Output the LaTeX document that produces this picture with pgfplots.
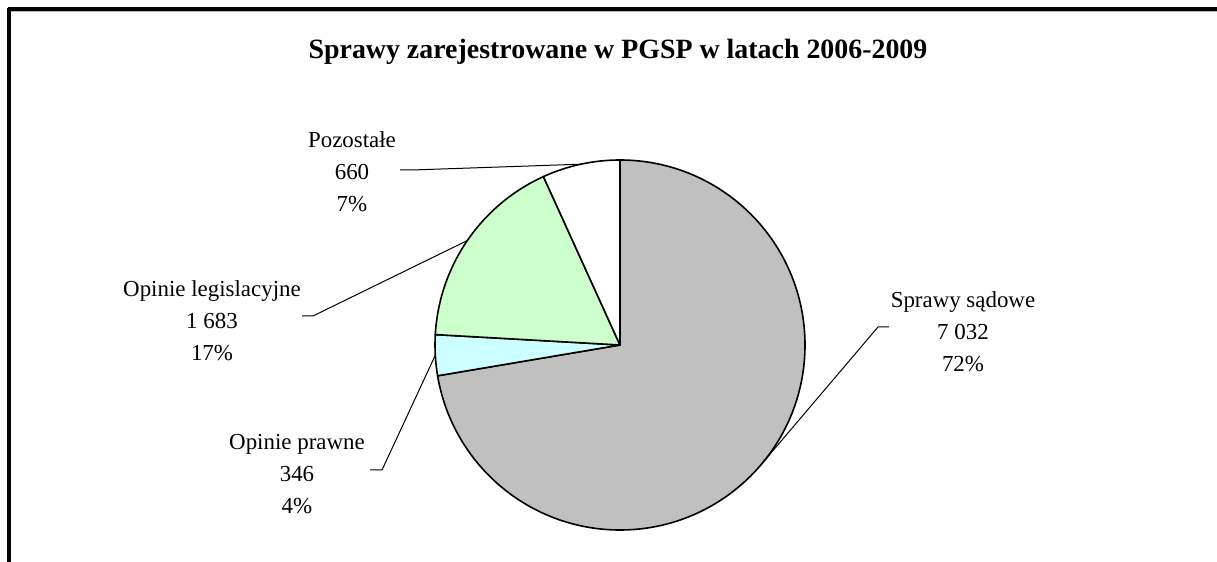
\documentclass[border=0pt]{standalone}
\usepackage{fontspec}
\setmainfont{Liberation Serif}
\usepackage{pgfplots}
\usepackage{pgfplotstable}
\pgfplotsset{compat=1.18}
\definecolor{sadGray}{HTML}{C0C0C0}
\definecolor{prawneCyan}{HTML}{CCFFFF}
\definecolor{legisGreen}{HTML}{CCFFCC}

\pgfplotstableread{
name value
sadowe 7032
prawne 346
legis 1683
pozost 660
}\piedata

\begin{document}
\begin{tikzpicture}
\pgfplotstablegetelem{0}{value}\of\piedata \let\va\pgfplotsretval
\pgfplotstablegetelem{1}{value}\of\piedata \let\vb\pgfplotsretval
\pgfplotstablegetelem{2}{value}\of\piedata \let\vc\pgfplotsretval
\pgfplotstablegetelem{3}{value}\of\piedata \let\vd\pgfplotsretval
\pgfmathsetmacro\tot{\va+\vb+\vc+\vd}
% slices run clockwise from 12 o'clock
\pgfmathsetmacro\aA{90-360*(\va/\tot)}
\pgfmathsetmacro\aB{\aA-360*(\vb/\tot)}
\pgfmathsetmacro\aC{\aB-360*(\vc/\tot)}
\pgfmathsetmacro\mA{(90+\aA)/2}
\pgfmathsetmacro\mB{(\aA+\aB)/2}
\pgfmathsetmacro\mC{(\aB+\aC)/2}
\pgfmathsetmacro\mD{(\aC-270)/2}
\def\R{92.5bp}
\begin{axis}[
  width=608.5bp, height=281bp, scale only axis,
  xmin=0, xmax=1217, ymin=0, ymax=562,
  axis lines=none, clip=false,
]
% frame
\draw[gray!60, line width=0.8bp] (axis cs:10,550.3) -- (axis cs:1217,550.3);
\draw[line width=1.6bp] (axis cs:8,553) -- (axis cs:1217,553);
\draw[line width=1.6bp] (axis cs:9,553.8) -- (axis cs:9,0);

\node[font=\fontsize{14}{17}\selectfont\bfseries] at (axis cs:618,510)
  {Sprawy zarejestrowane w PGSP w latach 2006-2009};

% slices
\filldraw[fill=sadGray, draw=black, line width=0.8bp, line join=round]
  (axis cs:620,217) -- ++(90:\R) arc[start angle=90, end angle=\aA, radius=\R] -- cycle;
\filldraw[fill=prawneCyan, draw=black, line width=0.8bp, line join=round]
  (axis cs:620,217) -- ++(\aA:\R) arc[start angle=\aA, end angle=\aB, radius=\R] -- cycle;
\filldraw[fill=legisGreen, draw=black, line width=0.8bp, line join=round]
  (axis cs:620,217) -- ++(\aB:\R) arc[start angle=\aB, end angle=\aC, radius=\R] -- cycle;
\filldraw[fill=white, draw=black, line width=0.8bp, line join=round]
  (axis cs:620,217) -- ++(\aC:\R) arc[start angle=\aC, end angle=-270, radius=\R] -- cycle;

% leader lines
\draw[line width=0.5bp] (axis cs:620,217) ++(\mA:\R) -- (axis cs:878,235) -- (axis cs:889,235);
\draw[line width=0.5bp] (axis cs:620,217) ++(\mB:\R) -- (axis cs:382,92) -- (axis cs:370,92);
\draw[line width=0.5bp] (axis cs:620,217) ++(\mC:\R) -- (axis cs:313,246) -- (axis cs:302,246);
\draw[line width=0.5bp] (axis cs:620,217) ++(\mD:\R) -- (axis cs:412,392) -- (axis cs:400,392);

% labels
\tikzset{lbl/.style={align=center, font=\fontsize{11.5}{16}\selectfont, inner sep=0pt}}
\node[lbl] at (axis cs:963,230) {Sprawy sądowe\\7 032\\72\%};
\node[lbl] at (axis cs:297,88) {Opinie prawne\\346\\4\%};
\node[lbl] at (axis cs:212,241) {Opinie legislacyjne\\1 683\\17\%};
\node[lbl] at (axis cs:352,390) {Pozostałe\\660\\7\%};
\end{axis}
\pgfresetboundingbox
\path (current axis.south west) rectangle (current axis.north east);
\end{tikzpicture}
\end{document}
